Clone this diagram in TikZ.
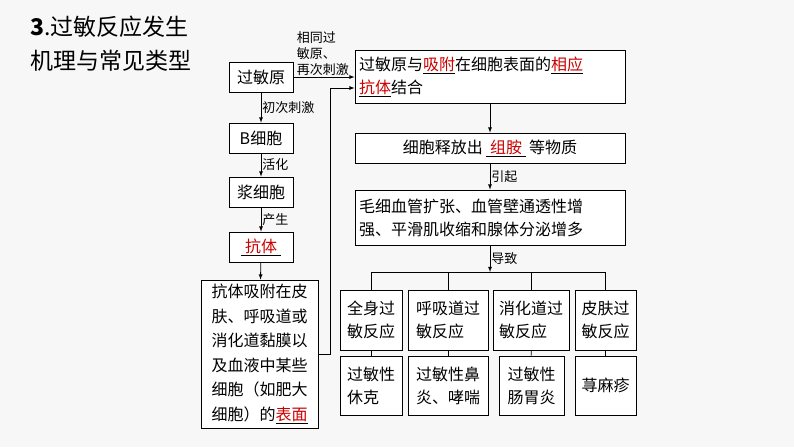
\documentclass[tikz,border=0pt]{standalone}
\usepackage{fontspec}
\setmainfont{Noto Sans CJK SC}
\usetikzlibrary{positioning}
\newcommand{\fillin}[1]{\underline{\textcolor{red!80!black}{#1}}}
\begin{document}
\begin{tikzpicture}[x=1pt,y=-1pt,>=latex,
  box/.style={draw,thick,fill=white,inner sep=3pt,font=\fontsize{16}{23}\selectfont,align=left},
  note/.style={font=\fontsize{13}{16}\selectfont,inner sep=1pt},
  link/.style={->,thick}]
  \fill[black!3] (0,0) rectangle (794,447);

  %% TITLE
  \node[anchor=north west,font=\fontsize{23}{34}\selectfont,align=left,inner sep=0] (title) at (30,16)
    {\textbf{3}.过敏反应发生\\机理与常见类型};

  %% LEFT CHAIN
  \node[box,minimum width=64,minimum height=30] (allergen) at (261,77) {过敏原};
  \node[box,minimum width=64,minimum height=30] (bcell) at (261,138) {B细胞};
  \node[box,minimum width=64,minimum height=30] (plasma) at (261,192) {浆细胞};
  \node[box,minimum width=64,minimum height=30] (antibody) at (261,247) {\,\fillin{\ 抗体\ }\,};
  \node[box,minimum width=117,minimum height=148,font=\fontsize{16}{24.5}\selectfont] (adsorb) at (259.5,354)
    {抗体吸附在皮\\肤、呼吸道或\\消化道黏膜以\\及血液中某些\\细胞（如肥大\\细胞）的\fillin{表面}};

  \draw[link] (allergen) -- node[note,right] {初次刺激} (bcell);
  \draw[link] (bcell) -- node[note,right] {活化} (plasma);
  \draw[link] (plasma) -- node[note,right] {产生} (antibody);
  \draw[link] (antibody) -- (adsorb);

  %% RIGHT CHAIN
  \node[box,text width=262,minimum width=270,minimum height=53] (bind) at (490,76.5)
    {过敏原与\fillin{吸附}在细胞表面的\fillin{相应}\\\fillin{抗体}结合};
  \node[box,minimum width=270,minimum height=30] (release) at (490,148)
    {细胞释放出\ \fillin{\ 组胺\ }\ 等物质};
  \node[box,text width=262,minimum width=270,minimum height=55] (symptom) at (490,217.5)
    {毛细血管扩张、血管壁通透性增\\强、平滑肌收缩和腺体分泌增多};

  \draw[link] (allergen.east) -- node[note,above,align=left,pos=0.48] {相同过\\敏原、\\再次刺激} (allergen.east -| bind.west);
  \coordinate (turn) at (330,88);
  \draw[link] (adsorb.east) -| (turn) -- (turn -| bind.west);
  \draw[link] (bind) -- (release);
  \draw[link] (release) -- node[note,right] {引起} (symptom);

  %% TYPES
  \coordinate (bus) at (490,272);
  \draw[link] (symptom) -- node[note,right] {导致} (bus);
  \foreach \name/\cx/\w/\txt/\ex/\ew/\etxt in {
      body/371/62/{全身过\\敏反应}/371/62/{过敏性\\休克},
      airway/448/80/{呼吸道过\\敏反应}/448/80/{过敏性鼻\\炎、哮喘},
      gut/531/76/{消化道过\\敏反应}/531.5/65/{过敏性\\肠胃炎},
      skin/605.5/61/{皮肤过\\敏反应}/605.5/61/{荨麻疹}} {
    \node[box,minimum width=\w,minimum height=60,inner sep=1pt] (\name) at (\cx,320) {\txt};
    \node[box,minimum width=\ew,minimum height=59,inner sep=1pt] (\name ex) at (\ex,385.5) {\etxt};
    \draw[thick] (\name.north) -- (\name.north |- bus);
    \draw[thick] (\name) -- (\name ex);
  }
  \draw[thick] (body.north |- bus) -- (skin.north |- bus);
\end{tikzpicture}
\end{document}
